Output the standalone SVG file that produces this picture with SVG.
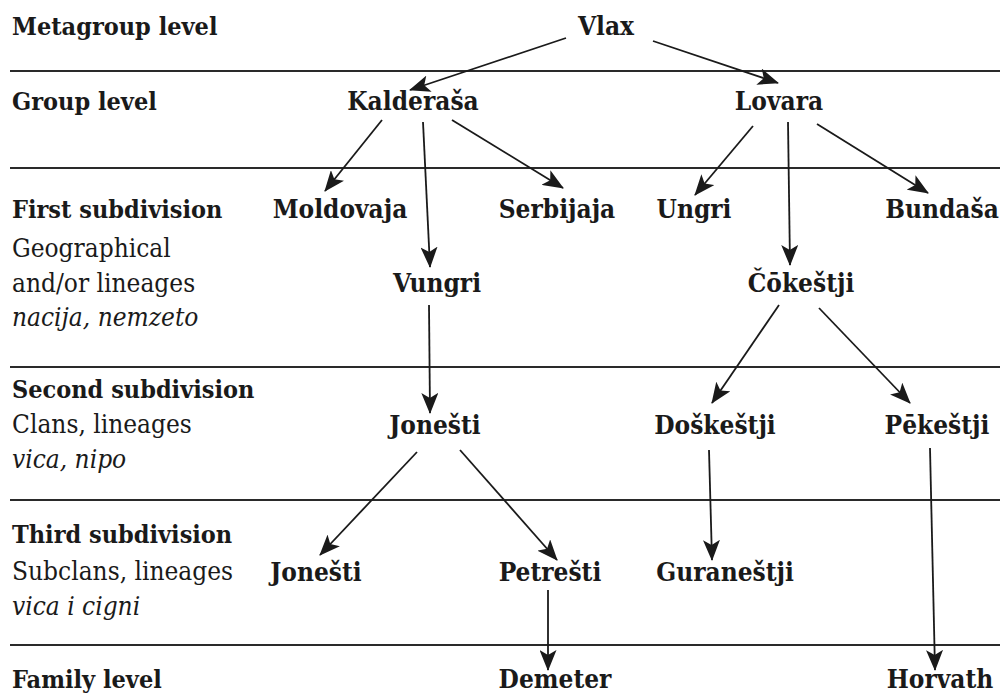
<svg xmlns="http://www.w3.org/2000/svg" width="1000" height="693" viewBox="0 0 1000 693">
<defs>
<style>
text{font-family:"DejaVu Serif Condensed","DejaVu Serif",serif;font-size:26px;fill:#1a1a1a}
.b{font-weight:bold;font-size:25px}
.i{font-style:italic}
.n{font-weight:bold;text-anchor:middle}
.rule{stroke:#2a2a2a;stroke-width:2}
.c{stroke:#1a1a1a;stroke-width:1.8;fill:none;marker-end:url(#ah)}
</style>
<marker id="ah" viewBox="0 0 21 17" refX="20" refY="8.5" markerWidth="21" markerHeight="17" markerUnits="userSpaceOnUse" orient="auto">
<path d="M0,0 L21,8.5 L0,17 L5,8.5 Z" fill="#1a1a1a"/>
</marker>
</defs>
<rect width="1000" height="693" fill="#ffffff"/>
<g id="rules">
<line class="rule" x1="10" y1="71" x2="1000" y2="71"/>
<line class="rule" x1="10" y1="168" x2="1000" y2="168"/>
<line class="rule" x1="10" y1="367" x2="1000" y2="367"/>
<line class="rule" x1="10" y1="500" x2="1000" y2="500"/>
<line class="rule" x1="10" y1="645" x2="1000" y2="645"/>
</g>
<g id="levels">
<text class="b" x="12" y="35">Metagroup level</text>
<text class="b" x="12" y="110">Group level</text>
<text class="b" x="12" y="218">First subdivision</text>
<text x="12" y="257">Geographical</text>
<text x="12" y="292">and/or lineages</text>
<text class="i" x="12" y="326">nacija, nemzeto</text>
<text class="b" x="12" y="398">Second subdivision</text>
<text x="12" y="433">Clans, lineages</text>
<text class="i" x="12" y="468">vica, nipo</text>
<text class="b" x="12" y="543">Third subdivision</text>
<text x="12" y="580">Subclans, lineages</text>
<text class="i" x="12" y="615">vica i cigni</text>
<text class="b" x="12" y="688">Family level</text>
</g>
<g id="connectors">
<line class="c" x1="566" y1="38" x2="410" y2="90"/>
<line class="c" x1="653" y1="41" x2="778" y2="83"/>
<line class="c" x1="382" y1="120" x2="325" y2="191"/>
<line class="c" x1="423" y1="122" x2="430" y2="267"/>
<line class="c" x1="452" y1="120" x2="563" y2="188"/>
<line class="c" x1="753" y1="126" x2="695" y2="195"/>
<line class="c" x1="788" y1="122" x2="790" y2="265"/>
<line class="c" x1="817" y1="124" x2="928" y2="193"/>
<line class="c" x1="429" y1="305" x2="430" y2="413"/>
<line class="c" x1="779" y1="305" x2="712" y2="403"/>
<line class="c" x1="819" y1="308" x2="910" y2="403"/>
<line class="c" x1="417" y1="452" x2="320" y2="555"/>
<line class="c" x1="460" y1="450" x2="557" y2="560"/>
<line class="c" x1="548" y1="590" x2="548" y2="670"/>
<line class="c" x1="709" y1="450" x2="712" y2="560"/>
<line class="c" x1="930" y1="448" x2="935" y2="670"/>
</g>
<g id="nodes">
<g id="n-vlax"><text class="n" x="606" y="35">Vlax</text></g>
<g id="n-kalderasa"><text class="n" x="413" y="110">Kalderaša</text></g>
<g id="n-lovara"><text class="n" x="779" y="110">Lovara</text></g>
<g id="n-moldovaja"><text class="n" x="340" y="218">Moldovaja</text></g>
<g id="n-serbijaja"><text class="n" x="557" y="218">Serbijaja</text></g>
<g id="n-ungri"><text class="n" x="694" y="218">Ungri</text></g>
<g id="n-bundasa"><text class="n" x="942" y="218">Bundaša</text></g>
<g id="n-vungri"><text class="n" x="437" y="292">Vungri</text></g>
<g id="n-cokestji"><text class="n" x="801" y="292">Čōkeštji</text></g>
<g id="n-jonesti2"><text class="n" x="435" y="434">Jonešti</text></g>
<g id="n-doskestji"><text class="n" x="715" y="434">Doškeštji</text></g>
<g id="n-pekestji"><text class="n" x="937" y="434">Pēkeštji</text></g>
<g id="n-jonesti3"><text class="n" x="316" y="581">Jonešti</text></g>
<g id="n-petresti"><text class="n" x="550" y="581">Petrešti</text></g>
<g id="n-guranestji"><text class="n" x="725" y="581">Guraneštji</text></g>
<g id="n-demeter"><text class="n" x="555" y="688">Demeter</text></g>
<g id="n-horvath"><text class="n" x="940" y="688">Horvath</text></g>
</g>
</svg>
